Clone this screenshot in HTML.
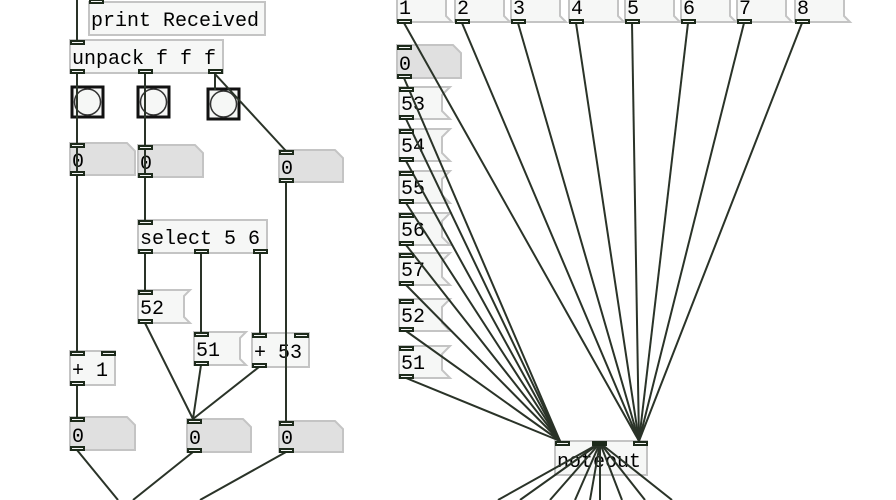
<!DOCTYPE html>
<html><head><meta charset="utf-8"><style>
html,body{margin:0;padding:0;background:#fff;}
svg{display:block;}
text{font-family:"Liberation Mono","DejaVu Sans Mono",monospace;font-size:20px;fill:#000;}
</style></head><body>
<svg width="896" height="500" viewBox="0 0 896 500" xmlns="http://www.w3.org/2000/svg">
<g fill="#f6f7f6" stroke="#c4c4c4" stroke-width="2">
<rect x="89" y="2" width="176" height="33"/>
<rect x="70" y="40" width="153" height="33"/>
<rect x="138" y="220" width="129" height="33"/>
<rect x="252" y="333" width="57" height="34"/>
<rect x="70" y="351" width="45" height="34"/>
<rect x="555" y="441" width="92" height="34"/>
<polygon points="138,290 190,290 184,296 184,317 190,323 138,323"/>
<polygon points="194,332 246,332 240,338 240,359 246,365 194,365"/>
<polygon points="397,-5 446,-5 446,16 452,22 397,22"/>
<polygon points="455,-5 504,-5 504,16 510,22 455,22"/>
<polygon points="511,-5 560,-5 560,16 566,22 511,22"/>
<polygon points="569,-5 618,-5 618,16 624,22 569,22"/>
<polygon points="625,-5 674,-5 674,16 680,22 625,22"/>
<polygon points="681,-5 730,-5 730,16 736,22 681,22"/>
<polygon points="737,-5 786,-5 786,16 792,22 737,22"/>
<polygon points="795,-5 844,-5 844,16 850,22 795,22"/>
<polygon points="399,87 450,87 442,95 442,111 450,119 399,119"/>
<polygon points="399,129 450,129 442,137 442,153 450,161 399,161"/>
<polygon points="399,171 450,171 442,179 442,195 450,203 399,203"/>
<polygon points="399,213 450,213 442,221 442,237 450,245 399,245"/>
<polygon points="399,253 450,253 442,261 442,277 450,285 399,285"/>
<polygon points="399,299 450,299 442,307 442,323 450,331 399,331"/>
<polygon points="399,346 450,346 442,354 442,370 450,378 399,378"/>
</g>
<g fill="#e0e0e0" stroke="#c4c4c4" stroke-width="2">
<polygon points="70,143 127,143 135,151 135,175 70,175"/>
<polygon points="138,145 195,145 203,153 203,177 138,177"/>
<polygon points="279,150 335,150 343,158 343,182 279,182"/>
<polygon points="70,417 127,417 135,425 135,450 70,450"/>
<polygon points="187,419 243,419 251,427 251,452 187,452"/>
<polygon points="279,421 335,421 343,429 343,452 279,452"/>
<polygon points="397,45 453,45 461,53 461,78 397,78"/>
</g>
<g fill="#f6f7f6" stroke="#111" stroke-width="3">
<rect x="72" y="87" width="31" height="30"/>
<rect x="138" y="87" width="31" height="30"/>
<rect x="208" y="89" width="31" height="30"/>
</g>
<g fill="#f6f7f6" stroke="#333" stroke-width="1.5">
<circle cx="87.5" cy="102" r="13"/>
<circle cx="153.5" cy="102" r="13"/>
<circle cx="223.5" cy="104" r="13"/>
</g>
<text x="91" y="26">print Received</text>
<text x="72" y="64">unpack f f f</text>
<text x="72" y="167">0</text>
<text x="140" y="169">0</text>
<text x="281" y="174">0</text>
<text x="140" y="244">select 5 6</text>
<text x="140" y="314">52</text>
<text x="196" y="356">51</text>
<text x="254" y="358">+ 53</text>
<text x="72" y="376">+ 1</text>
<text x="72" y="442">0</text>
<text x="189" y="444">0</text>
<text x="281" y="444">0</text>
<text x="399" y="14">1</text><text x="457" y="14">2</text><text x="513" y="14">3</text><text x="571" y="14">4</text><text x="627" y="14">5</text><text x="683" y="14">6</text><text x="739" y="14">7</text><text x="797" y="14">8</text>
<text x="399" y="70">0</text>
<text x="401" y="110">53</text>
<text x="401" y="152">54</text>
<text x="401" y="194">55</text>
<text x="401" y="236">56</text>
<text x="401" y="276">57</text>
<text x="401" y="322">52</text>
<text x="401" y="369">51</text>
<text x="557" y="467">noteout</text>
<g stroke="#2a3328" stroke-width="2" fill="none">
<line x1="77" y1="0" x2="77" y2="41"/>
<line x1="77" y1="74" x2="77" y2="353"/>
<line x1="145" y1="74" x2="145" y2="220"/>
<line x1="215" y1="74" x2="215" y2="90"/>
<line x1="215" y1="74" x2="286" y2="151"/>
<line x1="286" y1="182" x2="286" y2="421"/>
<line x1="145" y1="253" x2="145" y2="290"/>
<line x1="201" y1="253" x2="201" y2="332"/>
<line x1="260" y1="253" x2="260" y2="334"/>
<line x1="145" y1="323" x2="193" y2="419"/>
<line x1="201" y1="365" x2="193" y2="419"/>
<line x1="259" y1="367" x2="193" y2="419"/>
<line x1="77" y1="385" x2="77" y2="417"/>
<line x1="77" y1="450" x2="118" y2="500"/>
<line x1="193" y1="452" x2="133" y2="500"/>
<line x1="286" y1="452" x2="200" y2="500"/>
<line x1="404" y1="23" x2="639" y2="441"/>
<line x1="462" y1="23" x2="639" y2="441"/>
<line x1="518" y1="23" x2="639" y2="441"/>
<line x1="576" y1="23" x2="639" y2="441"/>
<line x1="632" y1="23" x2="639" y2="441"/>
<line x1="688" y1="23" x2="639" y2="441"/>
<line x1="744" y1="23" x2="639" y2="441"/>
<line x1="802" y1="23" x2="639" y2="441"/>
<line x1="404" y1="78" x2="560" y2="441"/>
<line x1="406" y1="119" x2="560" y2="441"/>
<line x1="406" y1="161" x2="560" y2="441"/>
<line x1="406" y1="203" x2="560" y2="441"/>
<line x1="406" y1="245" x2="560" y2="441"/>
<line x1="406" y1="285" x2="560" y2="441"/>
<line x1="406" y1="331" x2="560" y2="441"/>
<line x1="406" y1="378" x2="560" y2="441"/>
<line x1="600" y1="443" x2="498" y2="500"/>
<line x1="600" y1="443" x2="520" y2="500"/>
<line x1="600" y1="443" x2="550" y2="500"/>
<line x1="600" y1="443" x2="575" y2="500"/>
<line x1="600" y1="443" x2="590" y2="500"/>
<line x1="600" y1="443" x2="600" y2="500"/>
<line x1="600" y1="443" x2="622" y2="500"/>
<line x1="600" y1="443" x2="645" y2="500"/>
<line x1="600" y1="443" x2="672" y2="500"/>
</g>
<g fill="#f6f7f6" stroke="#1d2a1b" stroke-width="2">
<rect x="90" y="0" width="13" height="3"/>
<rect x="71" y="41" width="13" height="3"/><rect x="71" y="70" width="13" height="3"/><rect x="139" y="70" width="13" height="3"/><rect x="209" y="70" width="13" height="3"/>
<rect x="71" y="144" width="13" height="3"/><rect x="71" y="172" width="13" height="3"/>
<rect x="139" y="146" width="13" height="3"/><rect x="139" y="174" width="13" height="3"/>
<rect x="280" y="151" width="13" height="3"/><rect x="280" y="179" width="13" height="3"/>
<rect x="139" y="221" width="13" height="3"/><rect x="139" y="250" width="13" height="3"/><rect x="195" y="250" width="13" height="3"/><rect x="254" y="250" width="13" height="3"/>
<rect x="139" y="291" width="13" height="3"/><rect x="139" y="320" width="13" height="3"/>
<rect x="195" y="333" width="13" height="3"/><rect x="195" y="362" width="13" height="3"/>
<rect x="253" y="334" width="13" height="3"/><rect x="295" y="334" width="13" height="3"/><rect x="253" y="364" width="13" height="3"/>
<rect x="71" y="352" width="13" height="3"/><rect x="102" y="352" width="13" height="3"/><rect x="71" y="382" width="13" height="3"/>
<rect x="71" y="418" width="13" height="3"/><rect x="71" y="447" width="13" height="3"/>
<rect x="188" y="420" width="13" height="3"/><rect x="188" y="449" width="13" height="3"/>
<rect x="280" y="422" width="13" height="3"/><rect x="280" y="449" width="13" height="3"/>
<rect x="398" y="20" width="13" height="3"/><rect x="456" y="20" width="13" height="3"/><rect x="512" y="20" width="13" height="3"/><rect x="570" y="20" width="13" height="3"/><rect x="626" y="20" width="13" height="3"/><rect x="682" y="20" width="13" height="3"/><rect x="738" y="20" width="13" height="3"/><rect x="796" y="20" width="13" height="3"/>
<rect x="398" y="46" width="13" height="3"/><rect x="398" y="75" width="13" height="3"/>
<rect x="400" y="88" width="13" height="3"/><rect x="400" y="116" width="13" height="3"/>
<rect x="400" y="130" width="13" height="3"/><rect x="400" y="158" width="13" height="3"/>
<rect x="400" y="172" width="13" height="3"/><rect x="400" y="200" width="13" height="3"/>
<rect x="400" y="214" width="13" height="3"/><rect x="400" y="242" width="13" height="3"/>
<rect x="400" y="254" width="13" height="3"/><rect x="400" y="282" width="13" height="3"/>
<rect x="400" y="300" width="13" height="3"/><rect x="400" y="328" width="13" height="3"/>
<rect x="400" y="347" width="13" height="3"/><rect x="400" y="375" width="13" height="3"/>
<rect x="556" y="442" width="13" height="3"/><rect x="593" y="442" width="13" height="3" fill="#1d2a1b"/><rect x="634" y="442" width="13" height="3"/>
</g>
</svg>
</body></html>
